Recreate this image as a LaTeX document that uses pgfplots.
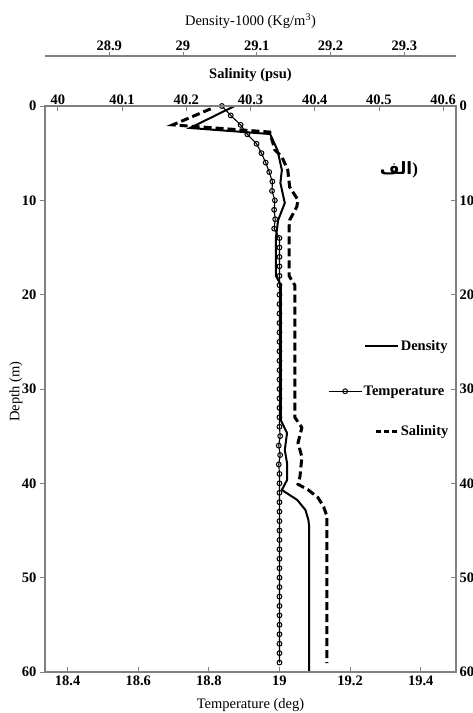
\documentclass[border=0pt]{standalone}
\usepackage{pgfplots}
\pgfplotsset{compat=1.18}
\usepackage{fontspec}
\setmainfont{Liberation Serif}
\newfontfamily\arabicfont[Script=Arabic]{DejaVu Sans}
\TeXXeTstate=1
\pgfplotsset{
  common/.style={
    scale only axis, width=411pt, height=566pt,
    at={(45pt,41pt)}, anchor=south west,
    ymin=0, ymax=60, y dir=reverse,
    scaled ticks=false,
    /pgf/number format/assume math mode=true,
    tick label style={font=\fontsize{14.5}{16}\selectfont\bfseries, text=black},
    label style={font=\fontsize{14.5}{16}\selectfont},
    axis line style={-, gray, line width=1.2pt},
    tick style={gray, line width=0.8pt},
    major tick length=5pt,
    legend style={draw=none, fill=none, inner sep=0pt, outer sep=0pt,
      nodes={inner sep=1.5pt},
      font=\fontsize{14.5}{16}\selectfont\bfseries},
  },
}
\begin{document}
\begin{tikzpicture}[x=1pt,y=1pt]
\path[use as bounding box] (0,0) rectangle (473,713);
% ---------------- Temperature (bottom axis, left depth axis)
\begin{axis}[common,
  xmin=18.336, xmax=19.5,
  xtick={18.4,18.6,18.8,19,19.2,19.4},
  ytick={0,10,20,30,40,50,60},
  xtick pos=left, ytick pos=left,
  xtick align=inside, ytick align=outside,
  xlabel={Temperature (deg)},
  ylabel={Depth (m)},
  xlabel style={at={(axis description cs:0.5,-0.0583)}, anchor=center},
  ylabel style={at={(axis description cs:-0.0706,0.495)}, anchor=center},
  legend style={at={(axis description cs:0.975,0.496)}, anchor=east},
  legend image code/.code={\draw[mark repeat=2,mark phase=2,#1] plot coordinates {(0pt,0pt) (16.5pt,0pt) (33pt,0pt)};},
]
\addplot[black, line width=1.1pt, mark=o, mark size=2.4pt, mark options={fill=white, line width=1pt, solid}] coordinates {
(18.837,0) (18.862,1) (18.890,2) (18.909,3) (18.935,4) (18.949,5) (18.961,6) (18.971,7)
(18.980,8) (18.979,9) (18.987,10) (18.985,11) (18.988,12) (18.985,13) (19.000,14)
(19.000,15) (19.000,16) (19.000,17) (19.000,18) (19.000,19) (19.000,20) (19.000,21)
(19.000,22) (19.000,23) (19.000,24) (19.000,25) (19.000,26) (19.000,27) (19.000,28)
(19.000,29) (19.000,30) (19.000,31) (19.000,32) (19.000,33) (19.000,34) (19.002,35)
(18.998,36) (19.002,37) (18.998,38) (19.000,39) (19.000,40) (19.000,41) (19.000,42)
(19.000,43) (19.000,44) (19.000,45) (19.000,46) (19.000,47) (19.000,48) (19.000,49)
(19.000,50) (19.000,51) (19.000,52) (19.000,53) (19.000,54) (19.000,55) (19.000,56)
(19.000,57) (19.000,58) (19.000,59)
};
\addlegendentry{Temperature}
\end{axis}
% ---------------- Density curve (hidden axes)
\begin{axis}[common,
  hide axis,
  xmin=28.813, xmax=29.370,
  legend style={at={(axis description cs:0.983,0.576)}, anchor=east},
  legend image code/.code={\draw[#1] (0pt,0pt) -- (33pt,0pt);},
]
\addplot[black, line width=2pt] coordinates {
(29.070,0) (29.0095,2.33) (29.118,2.97) (29.128,4.66) (29.134,6.78) (29.132,8.16)
(29.138,10.28) (29.129,12.09) (29.126,13.89) (29.126,18.0) (29.1326,19.0) (29.1326,33.3)
(29.141,34.67) (29.138,36.47) (29.141,37.85) (29.141,39.65) (29.134,40.7) (29.155,41.77)
(29.166,42.83) (29.170,43.9) (29.171,44.6) (29.171,60)
};
\addlegendentry{Density}
\end{axis}
% ---------------- Salinity (top axis, right depth axis)
\begin{axis}[common,
  xmin=39.98, xmax=40.62,
  xtick={40,40.1,40.2,40.3,40.4,40.5,40.6},
  ytick={0,10,20,30,40,50,60},
  xtick pos=right, xticklabel pos=right,
  ytick pos=right, yticklabel pos=right,
  xtick align=inside, ytick align=inside,
  xticklabel style={inner sep=1pt},
  xlabel={Salinity (psu)},
  xlabel style={font=\fontsize{14.5}{16}\selectfont\bfseries, at={(axis description cs:0.5,1.0548)}, anchor=center},
  legend style={at={(axis description cs:0.985,0.425)}, anchor=east},
  legend image code/.code={\draw[#1, dash pattern=on 5.5pt off 2.5pt] (0pt,0pt) -- (22pt,0pt);},
]
\addplot[black, line width=3pt, dash pattern=on 8pt off 4pt] coordinates {
(40.238,0.3) (40.179,2.0) (40.330,2.76) (40.338,4.66) (40.349,5.4) (40.358,6.78)
(40.361,8.59) (40.374,9.97) (40.372,10.7) (40.361,12.09) (40.360,12.93) (40.360,18.0)
(40.369,19.0) (40.369,33.0) (40.380,34.1) (40.374,35.7) (40.380,37.2) (40.377,39.3)
(40.374,40.1) (40.390,40.7) (40.405,41.5) (40.414,42.5) (40.419,43.5) (40.419,59.05)
};
\addlegendentry{Salinity}
\node[font=\fontsize{17}{20}\selectfont\bfseries, inner sep=0pt] at (axis description cs:0.861,0.887) {\mbox{\arabicfont\bfseries\beginR الف\endR}\mbox{)}};
\end{axis}
% ---------------- Density axis (separate top axis)
\begin{axis}[
  scale only axis, width=411pt, height=1pt,
  at={(45pt,656pt)}, anchor=south west,
  xmin=28.813, xmax=29.370, ymin=0, ymax=1,
  axis x line*=top, axis y line=none,
  xtick={28.9,29,29.1,29.2,29.3}, ytick=\empty,
  scaled ticks=false,
  /pgf/number format/assume math mode=true,
  tick align=outside,
  major tick length=4pt,
  axis line style={-, gray, line width=1.2pt},
  tick style={gray, line width=0.8pt},
  tick label style={font=\fontsize{14.5}{16}\selectfont\bfseries, text=black},
  xticklabel style={inner sep=1pt},
  xlabel={Density-1000 (Kg/m\textsuperscript{3})},
  xlabel style={font=\fontsize{14.5}{16}\selectfont, at={(axis description cs:0.5,1)}, anchor=center, yshift=35pt},
]
\end{axis}
\end{tikzpicture}
\end{document}
